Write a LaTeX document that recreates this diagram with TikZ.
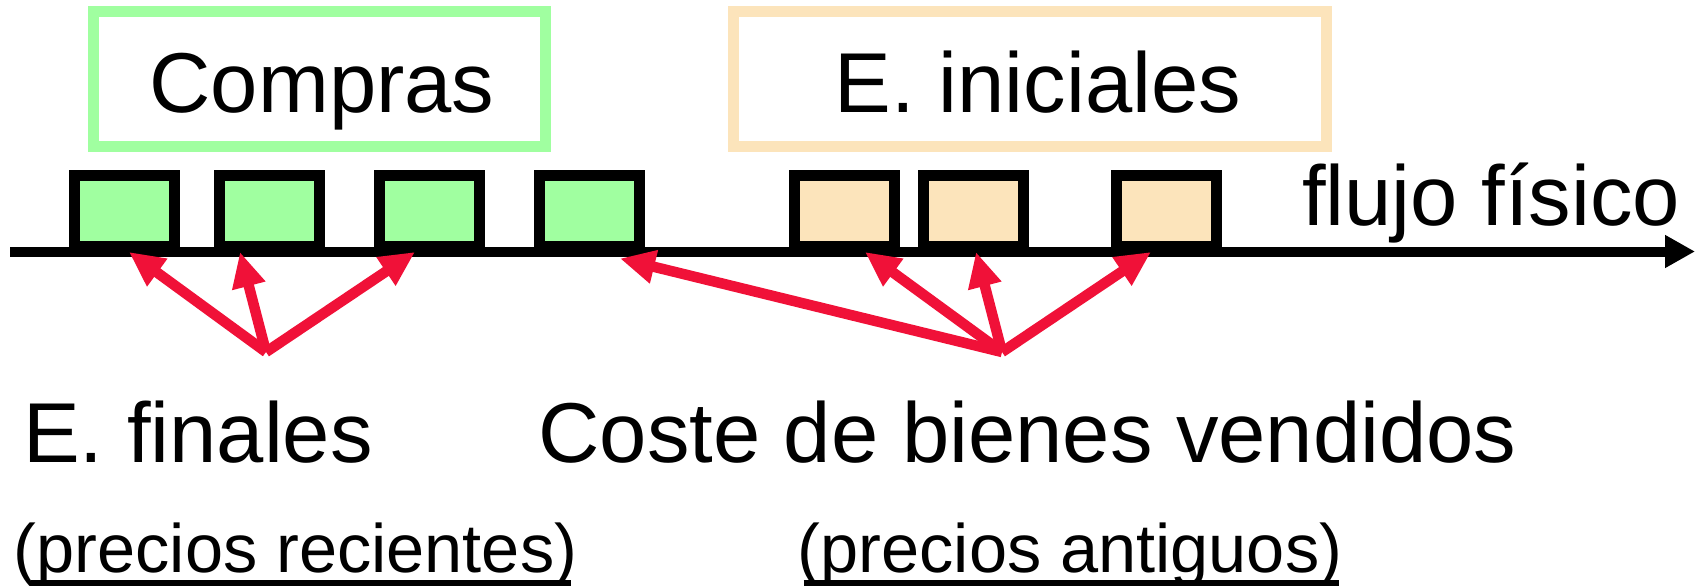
\documentclass[tikz,border=0pt]{standalone}
\usepackage{fontspec}
\setmainfont{Liberation Sans}
\usepackage{tikz}
\usetikzlibrary{arrows.meta,calc}
\definecolor{boxgreen}{RGB}{160,255,160}
\definecolor{boxsand}{RGB}{252,228,187}
\definecolor{linkred}{RGB}{240,17,56}

\begin{document}
\begin{tikzpicture}[x=1pt,y=-1pt,
      unit/.style={draw=black,line width=11pt,minimum width=100pt,minimum height=71pt,inner sep=0pt},
      headbox/.style={line width=11pt,minimum width=#1,minimum height=134pt,inner sep=0pt},
      big/.style={inner sep=0pt,font=\fontsize{85}{100}\selectfont},
      small/.style={inner sep=0pt,font=\fontsize{68.5}{80}\selectfont},
      link/.style={draw=linkred,line width=10.5pt,-{Triangle[length=35pt,width=32pt]}},
      uline/.style={line width=6pt}]
  \useasboundingbox (0,0) rectangle (1700,586);
  \node[headbox=452pt,draw=boxgreen] (buy) at (319,79) {};
  \node[headbox=593pt,draw=boxsand] (start) at (1030,79) {};
  \node[big,anchor=base] (buylbl) at (322,112) {Compras};
  \node[big,anchor=base] (startlbl) at (1038,112) {E. iniciales};
  \node[unit,fill=boxgreen] (g1) at (124.5,211) {};
  \node[unit,fill=boxgreen] (g2) at (269.5,211) {};
  \node[unit,fill=boxgreen] (g3) at (429.5,211) {};
  \node[unit,fill=boxgreen] (g4) at (589.5,211) {};
  \node[unit,fill=boxsand] (o1) at (844.5,211) {};
  \node[unit,fill=boxsand] (o2) at (973.5,211) {};
  \node[unit,fill=boxsand] (o3) at (1166.5,211) {};
  \coordinate (axl) at (10,251.5);
  \coordinate (axr) at (1695,251.5);
  \draw[line width=10pt,-{Triangle[length=30pt,width=31pt]}] (axl) -- (axr);
  \node[big,anchor=base] (flow) at (1491,225) {flujo físico};
  \coordinate (efin) at (266,352);
  \coordinate (cogs) at (1002,352);
  \draw[link] (efin) -- ([xshift=4.5]g1.south);
  \draw[link] (efin) -- ([xshift=-29.5]g2.south);
  \draw[link] (efin) -- ([xshift=-14.5]g3.south);
  \draw[link] (cogs) -- ([shift={(30.5,6.5)}]g4.south);
  \draw[link] (cogs) -- ([xshift=20.5]o1.south);
  \draw[link] (cogs) -- ([xshift=2.5]o2.south);
  \draw[link] (cogs) -- ([xshift=-15.5]o3.south);
  \node[big,anchor=base] (endlbl) at (198,462) {E. finales};
  \node[big,anchor=base] (cogslbl) at (1027.5,462) {Coste de bienes vendidos};
  \node[small,anchor=base] (recent) at (295.5,572) {(precios recientes)};
  \node[small,anchor=base] (old) at (1070,572) {(precios antiguos)};
  \draw[uline] ([shift={(17,11)}]recent.base west) -- ([shift={(-6,11)}]recent.base east);
  \draw[uline] ([shift={(6,11)}]old.base west) -- ([shift={(-3,11)}]old.base east);
\end{tikzpicture}
\end{document}
